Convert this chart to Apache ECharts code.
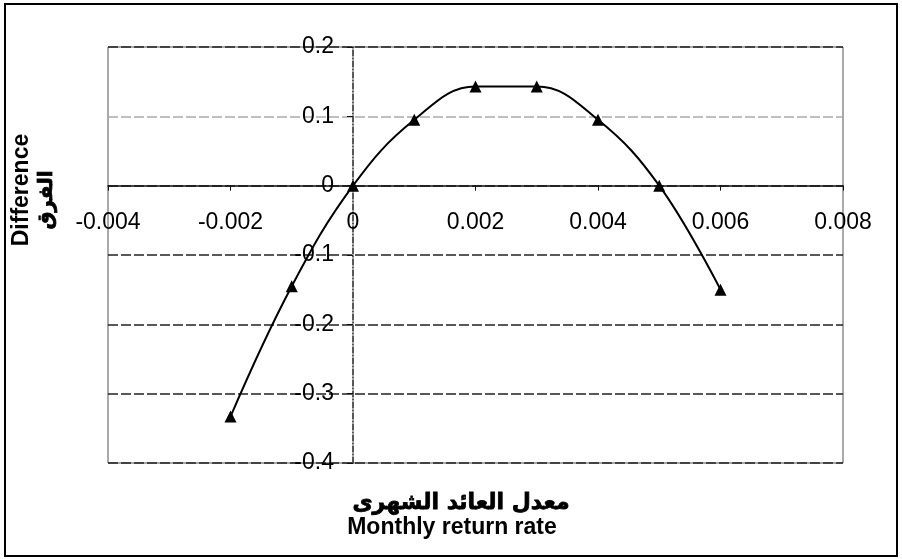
<!DOCTYPE html>
<html>
<head>
<meta charset="utf-8">
<script src="https://cdn.jsdelivr.net/npm/echarts@6/dist/echarts.min.js"></script>
<style>
  html, body { margin: 0; padding: 0; background: #fff; }
  #main { width: 902px; height: 559px; }
</style>
</head>
<body>
<div id="main"></div>
<script type="text/javascript">
// monthly return rate vs difference
var returnRates = [-0.002, -0.001, 0, 0.001, 0.002, 0.003, 0.004, 0.005, 0.006];
var differences = [-0.333, -0.145, 0, 0.095, 0.143, 0.143, 0.095, 0, -0.15];
var xTitle = ['معدل العائد الشهرى', 'Monthly return rate'];
var yTitle = ['Difference', 'الفرق'];

var fontFam = '"Liberation Sans", Arial, sans-serif';
var pts = returnRates.map(function (x, i) { return [x, differences[i]]; });

// grid box, axes cross at (0, 0) inside it
var gLeft = 108, gRight = 59, gTop = 47, gBottom = 96;
var gW = 902 - gLeft - gRight, gH = 559 - gTop - gBottom;
var xMin = -0.004, xMax = 0.008, yMin = -0.4, yMax = 0.2;
var xOff = -gH * (0 - yMin) / (yMax - yMin);   // move x axis up to y = 0
var yOff = -gW * (0 - xMin) / (xMax - xMin);   // move y axis right to x = 0

var myChart = echarts.init(document.getElementById('main'));

var option = {
    backgroundColor: '#fff',
    animation: false,
    grid: {
        left: gLeft, right: gRight, top: gTop, bottom: gBottom,
        show: true,
        borderColor: '#555',
        borderWidth: 1
    },
    xAxis: {
        type: 'value',
        position: 'bottom',
        offset: xOff,
        min: xMin,
        max: xMax,
        interval: 0.002,
        axisLine: { onZero: false, lineStyle: { color: '#111', width: 1.5 } },
        axisTick: { show: true, length: 5, lineStyle: { color: '#111' } },
        axisLabel: {
            margin: 25,
            color: '#000',
            fontSize: 23,
            fontFamily: fontFam,
            formatter: function (v) { return String(Math.round(v * 1000) / 1000); }
        },
        splitLine: { show: false }
    },
    yAxis: {
        type: 'value',
        position: 'left',
        offset: yOff,
        min: yMin,
        max: yMax,
        interval: 0.1,
        axisLine: { onZero: false, lineStyle: { color: '#222', width: 1.5, type: [6, 2, 1, 2] } },
        axisTick: { show: true, length: 6, lineStyle: { color: '#111' } },
        axisLabel: {
            margin: 19,
            color: '#000',
            fontSize: 23,
            fontFamily: fontFam,
            formatter: function (v) { return String(Math.round(v * 10) / 10); }
        },
        splitLine: {
            show: true,
            lineStyle: {
                color: ['#222', '#222', '#222', '#222', '#222', '#aaa', '#222'],
                width: 1.5,
                type: [10, 3]
            }
        }
    },
    graphic: [
        {
            type: 'rect',
            shape: { x: 5, y: 4, width: 892, height: 552 },
            style: { fill: 'none', stroke: '#000', lineWidth: 2 }
        },
        {
            type: 'text', x: 22, y: 190, rotation: Math.PI / 2,
            style: { text: yTitle[0], font: 'bold 23px ' + fontFam, fill: '#000', align: 'center', verticalAlign: 'middle' }
        },
        {
            type: 'text', x: 47, y: 200, rotation: Math.PI / 2,
            style: { text: yTitle[1], font: 'bold 20px "DejaVu Sans", sans-serif', fill: '#000', stroke: '#000', lineWidth: 0.8, align: 'center', verticalAlign: 'middle' }
        },
        {
            type: 'text', x: 461, y: 503,
            style: { text: xTitle[0], font: 'bold 22px "DejaVu Sans", sans-serif', fill: '#000', stroke: '#000', lineWidth: 0.8, align: 'center', verticalAlign: 'middle' }
        },
        {
            type: 'text', x: 452, y: 528,
            style: { text: xTitle[1], font: 'bold 23px ' + fontFam, fill: '#000', align: 'center', verticalAlign: 'middle' }
        }
    ],
    series: [{
        type: 'line',
        data: pts,
        smooth: 0.4,
        symbol: 'triangle',
        symbolSize: 12,
        itemStyle: { color: '#000' },
        lineStyle: { color: '#000', width: 2 }
    }]
};
myChart.setOption(option);
</script>
</body>
</html>
